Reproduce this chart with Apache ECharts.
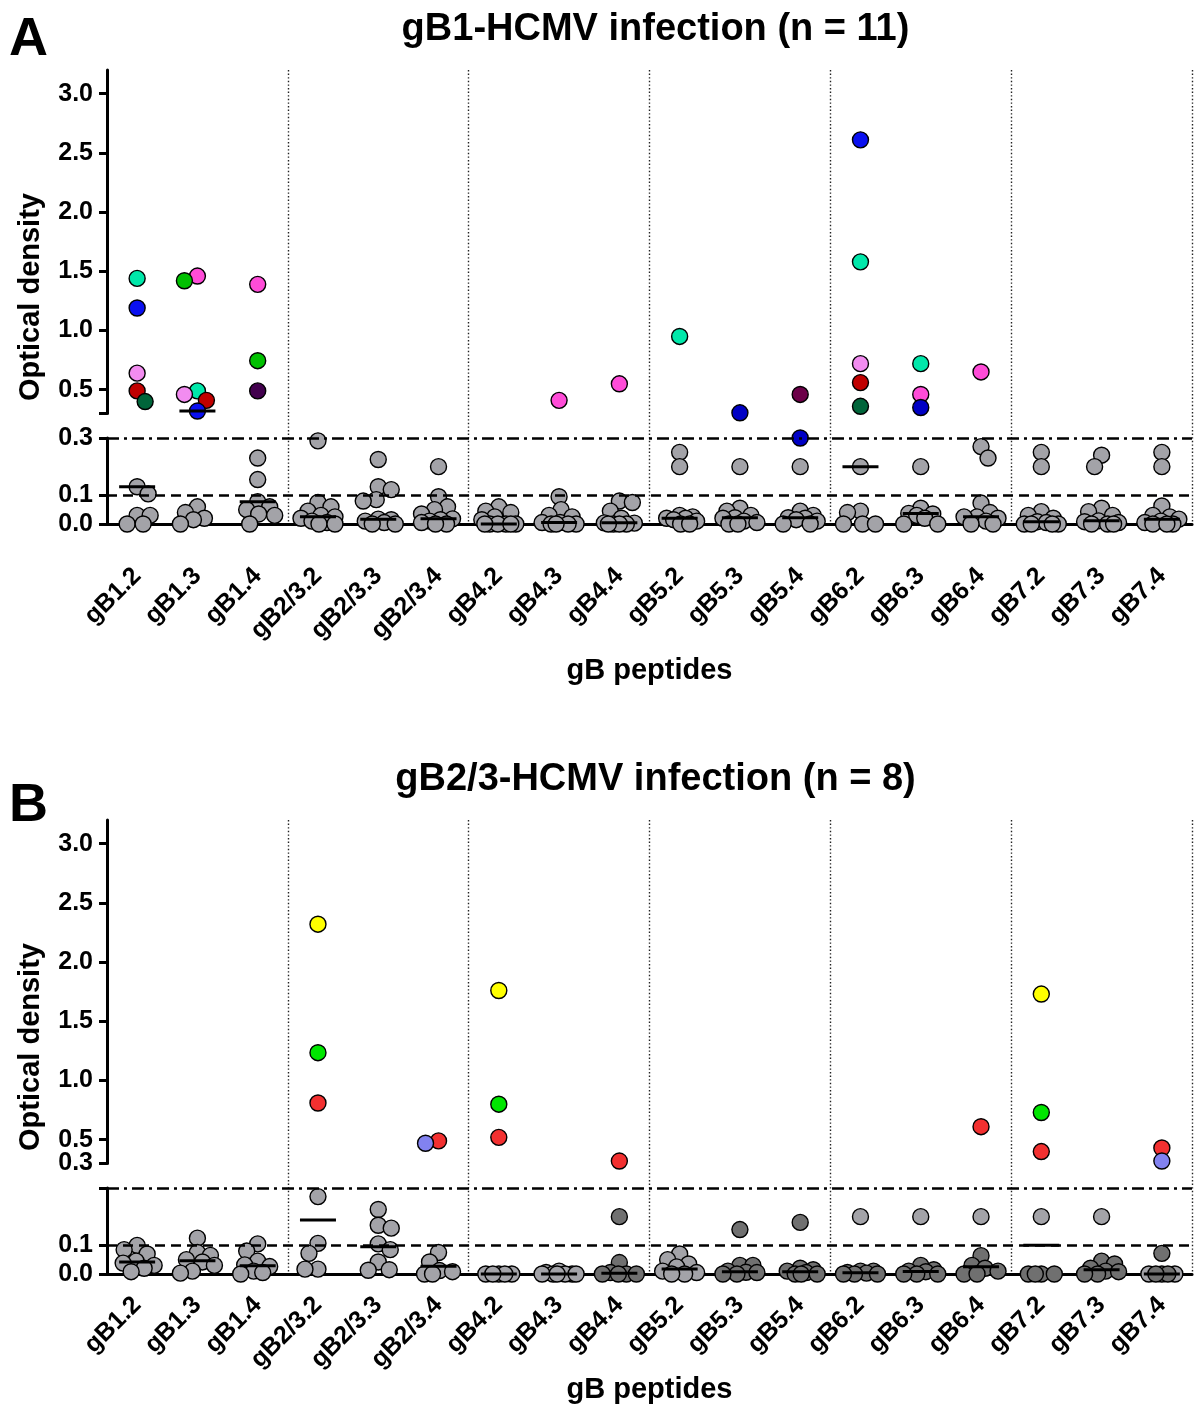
<!DOCTYPE html>
<html>
<head>
<meta charset="utf-8">
<script src="https://cdn.jsdelivr.net/npm/echarts@6/dist/echarts.min.js"></script>
<style>
html, body { margin: 0; padding: 0; background: #fff; }
#chart { width: 1203px; height: 1407px; }
</style>
</head>
<body>
<div id="chart"></div>
<script>
var peptides = ['gB1.2', 'gB1.3', 'gB1.4', 'gB2/3.2', 'gB2/3.3', 'gB2/3.4', 'gB4.2', 'gB4.3', 'gB4.4',
    'gB5.2', 'gB5.3', 'gB5.4', 'gB6.2', 'gB6.3', 'gB6.4', 'gB7.2', 'gB7.3', 'gB7.4'];

// panel A, gB1-HCMV infection (n = 11): OD of non-responding sera (grey)
var greyA = [
    [0.13, 0.105, 0.03, 0.03, 0.0, 0.0],
    [0.06, 0.04, 0.02, 0.015, 0.0],
    [0.23, 0.155, 0.078, 0.06, 0.05, 0.035, 0.03, 0.0],
    [0.29, 0.075, 0.06, 0.045, 0.03, 0.025, 0.02, 0.01, 0.005, 0.0, 0.0],
    [0.225, 0.13, 0.12, 0.085, 0.08, 0.017, 0.015, 0.01, 0.005, 0.0, 0.0],
    [0.2, 0.095, 0.06, 0.05, 0.035, 0.018, 0.015, 0.01, 0.005, 0.0, 0.0],
    [0.06, 0.045, 0.04, 0.025, 0.015, 0.0, 0.0, 0.0, 0.0, 0.0, 0.0],
    [0.095, 0.05, 0.03, 0.025, 0.005, 0.005, 0.0, 0.0, 0.0, 0.0],
    [0.08, 0.075, 0.045, 0.02, 0.004, 0.003, 0.0, 0.0, 0.0, 0.0],
    [0.25, 0.2, 0.03, 0.025, 0.02, 0.02, 0.015, 0.01, 0.0, 0.0],
    [0.2, 0.055, 0.045, 0.03, 0.022, 0.02, 0.01, 0.005, 0.0, 0.0],
    [0.2, 0.045, 0.03, 0.022, 0.02, 0.015, 0.01, 0.0, 0.0],
    [0.2, 0.045, 0.04, 0.0, 0.0, 0.0],
    [0.2, 0.055, 0.037, 0.035, 0.03, 0.02, 0.0, 0.0],
    [0.27, 0.23, 0.073, 0.04, 0.025, 0.025, 0.02, 0.01, 0.0, 0.0],
    [0.25, 0.2, 0.043, 0.03, 0.02, 0.008, 0.005, 0.0, 0.0, 0.0, 0.0],
    [0.24, 0.2, 0.055, 0.043, 0.03, 0.011, 0.008, 0.005, 0.0, 0.0, 0.0],
    [0.25, 0.2, 0.063, 0.03, 0.025, 0.017, 0.01, 0.005, 0.0, 0.0, 0.0]
];
// responders in panel A: [OD, donor]
var donorsA = [
    [[1.44, 'teal'], [1.19, 'blue'], [0.64, 'violet'], [0.49, 'red'], [0.40, 'forest']],
    [[1.46, 'magenta'], [1.42, 'green'], [0.49, 'teal'], [0.46, 'violet'], [0.41, 'red'], [0.32, 'blue']],
    [[1.39, 'magenta'], [0.745, 'green'], [0.49, 'plum']],
    [], [], [], [],
    [[0.41, 'magenta']],
    [[0.55, 'magenta']],
    [[0.95, 'teal']],
    [[0.305, 'navy']],
    [[0.46, 'wine'], [0.30, 'navy']],
    [[2.61, 'blue'], [1.58, 'teal'], [0.72, 'violet'], [0.56, 'red'], [0.36, 'forest']],
    [[0.72, 'teal'], [0.46, 'magenta'], [0.35, 'navy']],
    [[0.65, 'magenta']],
    [], [], []
];

// panel B, gB2/3-HCMV infection (n = 8)
var greyB = [
    [0.1, 0.085, 0.07, 0.045, 0.038, 0.03, 0.02, 0.008],
    [0.125, 0.075, 0.065, 0.05, 0.042, 0.03, 0.01, 0.003],
    [0.105, 0.08, 0.045, 0.032, 0.026, 0.01, 0.005, 0.0],
    [0.27, 0.107, 0.072, 0.017, 0.017],
    [0.225, 0.17, 0.16, 0.105, 0.085, 0.042, 0.015, 0.013],
    [0.075, 0.042, 0.012, 0.008, 0.0, 0.0],
    [0.0, 0.0, 0.0, 0.0, 0.0],
    [0.01, 0.005, 0.0, 0.0, 0.0, 0.0, 0.0, 0.0],
    [],
    [0.07, 0.05, 0.035, 0.025, 0.01, 0.005, 0.0, 0.0],
    [], [],
    [0.2], [0.2], [0.2], [0.2], [0.2],
    [0.0, 0.0, 0.0]
];
// darker grey sera in panel B
var darkB = [
    [], [], [], [], [], [], [], [],
    [0.2, 0.04, 0.005, 0.0, 0.0, 0.0, 0.0],
    [],
    [0.155, 0.03, 0.03, 0.01, 0.006, 0.005, 0.0, 0.0],
    [0.18, 0.02, 0.015, 0.01, 0.005, 0.0, 0.0, 0.0],
    [0.01, 0.01, 0.005, 0.003, 0.0, 0.0, 0.0],
    [0.03, 0.015, 0.01, 0.008, 0.0, 0.0, 0.0],
    [0.064, 0.03, 0.02, 0.01, 0.0, 0.0],
    [0.0, 0.0, 0.0, 0.0],
    [0.045, 0.035, 0.02, 0.01, 0.008, 0.0, 0.0],
    [0.072, 0.0, 0.0]
];
var donorsB = [
    [], [], [],
    [[2.32, 'yellow'], [1.235, 'lime'], [0.81, 'scarlet']],
    [],
    [[0.49, 'scarlet'], [0.47, 'periwinkle']],
    [[1.76, 'yellow'], [0.80, 'lime'], [0.52, 'scarlet']],
    [],
    [[0.32, 'scarlet']],
    [], [], [], [], [],
    [[0.61, 'scarlet']],
    [[1.73, 'yellow'], [0.73, 'lime'], [0.40, 'scarlet']],
    [],
    [[0.43, 'scarlet'], [0.32, 'periwinkle']]
];

var upperTicks = [0.3, 0.5, 1.0, 1.5, 2.0, 2.5, 3.0];
var upperLabels = [0.5, 1.0, 1.5, 2.0, 2.5, 3.0];
var lowerTicks = [0.0, 0.1, 0.3];
var cutoff = 0.1;       // dashed
var breakValue = 0.3;   // dash-dot, axis break

var donorColors = {
    teal: '#00e8aa', blue: '#0a10f0', navy: '#0000c4', violet: '#f28cf0', red: '#c00000',
    forest: '#00653a', green: '#00c000', magenta: '#ff4cd8', plum: '#42004e', wine: '#6c0048',
    yellow: '#ffff00', lime: '#00e600', scarlet: '#f23030', periwinkle: '#8282f0'
};
var GREY = '#a3a3a8', DARK = '#707070';
var FONT = '"Liberation Sans", Arial, Helvetica, sans-serif';

// breakLabel: which side of the break carries the "0.3" label
var panels = [
    { title: 'gB1-HCMV infection (n = 11)', letter: 'A', letterY: 40, grey: greyA, dark: null, donors: donorsA,
      top: 70, breakLabel: 'lower', xMargin: 48, nameGap: 132 },
    { title: 'gB2/3-HCMV infection (n = 8)', letter: 'B', letterY: 806, grey: greyB, dark: darkB, donors: donorsB,
      top: 820, breakLabel: 'upper', xMargin: 27, nameGap: 100 }
];

var LEFT = 107, WIDTH = 1085, UPPER_H = 343.4, GAP = 24.6, LOWER_H = 86;

var chart = echarts.init(document.getElementById('chart'));

var axisLineStyle = { color: '#000', width: 3 };
var tickLabelStyle = { color: '#000', fontSize: 25, fontWeight: 'bold', fontFamily: FONT, margin: 14 };
function fmt(v) { return v.toFixed(1); }

var grids = [], xAxes = [], yAxes = [], extraY = [], graphics = [];

panels.forEach(function (p) {
    var lowerTop = p.top + UPPER_H + GAP;
    grids.push({ left: LEFT, width: WIDTH, top: p.top, height: UPPER_H, outerBoundsMode: 'none' });
    grids.push({ left: LEFT, width: WIDTH, top: lowerTop, height: LOWER_H, outerBoundsMode: 'none' });
    grids.push({ left: LEFT, width: WIDTH, top: p.top, height: lowerTop + LOWER_H - p.top, outerBoundsMode: 'none' });
    var g = grids.length - 3;

    xAxes.push({ gridIndex: g, type: 'category', data: peptides, show: false });
    xAxes.push({
        gridIndex: g + 1, type: 'category', data: peptides,
        axisLine: { lineStyle: axisLineStyle },
        axisTick: { alignWithLabel: true, length: 8, lineStyle: axisLineStyle },
        axisLabel: { interval: 0, rotate: 45, margin: p.xMargin, color: '#000', fontSize: 25,
            fontWeight: 'bold', fontFamily: FONT },
        name: 'gB peptides', nameLocation: 'middle', nameGap: p.nameGap,
        nameTextStyle: { color: '#000', fontSize: 29, fontWeight: 'bold', fontFamily: FONT }
    });
    xAxes.push({
        gridIndex: g + 2, type: 'category', data: peptides,
        axisLine: { show: false }, axisTick: { show: false }, axisLabel: { show: false },
        splitLine: { show: true, interval: function (i) { return i > 0 && i % 3 === 0; },
            lineStyle: { color: '#222', width: 1.4, type: [1.4, 2.2] } }
    });

    yAxes.push({
        gridIndex: g, type: 'value', min: breakValue, max: 3.2, position: 'left',
        axisLine: { show: true, lineStyle: axisLineStyle },
        axisTick: { show: true, length: 8, lineStyle: axisLineStyle, customValues: upperTicks },
        axisLabel: Object.assign({ customValues: upperLabels, formatter: fmt }, tickLabelStyle),
        splitLine: { show: false }
    });
    yAxes.push({
        gridIndex: g + 1, type: 'value', min: 0, max: breakValue, position: 'left',
        axisLine: { show: true, lineStyle: axisLineStyle },
        axisTick: { show: true, length: 8, lineStyle: axisLineStyle, customValues: lowerTicks },
        axisLabel: Object.assign({
            customValues: p.breakLabel === 'lower' ? [0.0, cutoff, breakValue] : [0.0, cutoff],
            showMinLabel: true, showMaxLabel: true, formatter: fmt }, tickLabelStyle),
        splitLine: { show: false }
    });
    yAxes.push({
        gridIndex: g + 2, type: 'value', min: 0, max: 1, position: 'left',
        axisLine: { show: false }, axisTick: { show: false }, axisLabel: { show: false }, splitLine: { show: false },
        name: 'Optical density', nameLocation: 'middle', nameRotate: 90, nameGap: 62,
        nameTextStyle: { color: '#000', fontSize: 29, fontWeight: 'bold', fontFamily: FONT }
    });
    if (p.breakLabel === 'upper') {
        // lone "0.3" label at the foot of the upper segment
        extraY.push({
            gridIndex: g, type: 'value', min: breakValue, max: 3.2, position: 'left', offset: 0,
            axisLine: { show: false }, axisTick: { show: false }, splitLine: { show: false },
            axisLabel: Object.assign({ customValues: [breakValue], showMinLabel: true, formatter: fmt }, tickLabelStyle)
        });
    }

    graphics.push({
        type: 'text', x: LEFT + WIDTH / 2 + 6, y: p.top - 40,
        style: { text: p.title, fill: '#000', font: 'bold 38px ' + FONT, textAlign: 'center', textVerticalAlign: 'middle' }
    });
    graphics.push({
        type: 'text', x: 9, y: p.letterY,
        style: { text: p.letter, fill: '#000', font: 'bold 54px ' + FONT, textAlign: 'left', textVerticalAlign: 'middle' }
    });
});

chart.setOption({
    animation: false,
    backgroundColor: '#fff',
    grid: grids, xAxis: xAxes, yAxis: yAxes.concat(extraY), graphic: graphics,
    series: []
});

// median of all sera for one peptide
function median(vals) {
    var s = vals.slice().sort(function (a, b) { return a - b; });
    var n = s.length, m = Math.floor(n / 2);
    return n % 2 ? s[m] : (s[m - 1] + s[m]) / 2;
}

// simple beeswarm: shift each dot sideways until it no longer sits on a placed one
function swarm(pys, minD, maxOff) {
    var placed = [];
    return pys.map(function (py, k) {
        var best = 0, bestGap = -1, side = k % 2 ? -1 : 1;
        for (var d = 0; d <= maxOff; d++) {
            var cands = d === 0 ? [0] : [side * d, -side * d];
            for (var c = 0; c < cands.length; c++) {
                var dx = cands[c], gap = Infinity;
                placed.forEach(function (q) {
                    gap = Math.min(gap, Math.hypot(dx - q[0], py - q[1]));
                });
                if (gap >= minD) { placed.push([dx, py]); return dx; }
                if (gap > bestGap) { bestGap = gap; best = dx; }
            }
        }
        placed.push([best, py]);
        return best;
    });
}

var series = [];
panels.forEach(function (p, pi) {
    var g = pi * 3;
    var upper = [], lower = [], medUpper = [], medLower = [];
    peptides.forEach(function (name, i) {
        var pts = [];
        p.grey[i].forEach(function (v) { pts.push({ v: v, fill: GREY, z: 0 }); });
        if (p.dark) p.dark[i].forEach(function (v) { pts.push({ v: v, fill: DARK, z: 0 }); });
        p.donors[i].forEach(function (d) { pts.push({ v: d[0], fill: donorColors[d[1]], z: 1 }); });
        pts.forEach(function (pt) {
            pt.up = pt.v > breakValue;
            pt.py = chart.convertToPixel({ yAxisIndex: pt.up ? g : g + 1 }, pt.v);
        });
        var order = pts.slice().sort(function (a, b) { return a.py - b.py; });
        var offs = swarm(order.map(function (pt) { return pt.py; }), 13, 17);
        order.forEach(function (pt, k) { pt.dx = offs[k]; });
        pts.sort(function (a, b) { return a.z - b.z; });
        pts.forEach(function (pt) {
            var item = { value: [i, pt.v], symbolOffset: [pt.dx, 0], itemStyle: { color: pt.fill } };
            (pt.up ? upper : lower).push(item);
        });
        var med = median(pts.map(function (pt) { return pt.v; }));
        (med > breakValue ? medUpper : medLower).push([i, med]);
    });

    [[g, upper, medUpper], [g + 1, lower, medLower]].forEach(function (seg) {
        series.push({
            type: 'scatter', xAxisIndex: seg[0], yAxisIndex: seg[0], data: seg[1], clip: false,
            symbol: 'circle', symbolSize: 16, z: 3,
            itemStyle: { borderColor: '#000', borderWidth: 1.4, opacity: 1 },
            emphasis: { disabled: true }
        });
        series.push({
            type: 'custom', xAxisIndex: seg[0], yAxisIndex: seg[0], data: seg[2], clip: false, z: 4,
            renderItem: function (params, api) {
                var c = api.coord([api.value(0), api.value(1)]);
                return {
                    type: 'line',
                    shape: { x1: c[0] - 18, y1: c[1], x2: c[0] + 18, y2: c[1] },
                    style: { stroke: '#000', lineWidth: 3 }
                };
            }
        });
    });

    series.push({
        type: 'line', xAxisIndex: g + 1, yAxisIndex: g + 1, data: [[0, 0]], z: 2,
        symbol: 'none', lineStyle: { width: 0 },
        markLine: {
            silent: true, symbol: 'none', label: { show: false },
            data: [
                { yAxis: cutoff, lineStyle: { color: '#000', width: 2.5, type: [10, 6] } },
                { yAxis: breakValue, lineStyle: { color: '#000', width: 2.5, type: [12, 5, 3, 5] } }
            ]
        }
    });
});

chart.setOption({ series: series });

window.addEventListener('resize', function () {
    chart.resize();
});
</script>
</body>
</html>
